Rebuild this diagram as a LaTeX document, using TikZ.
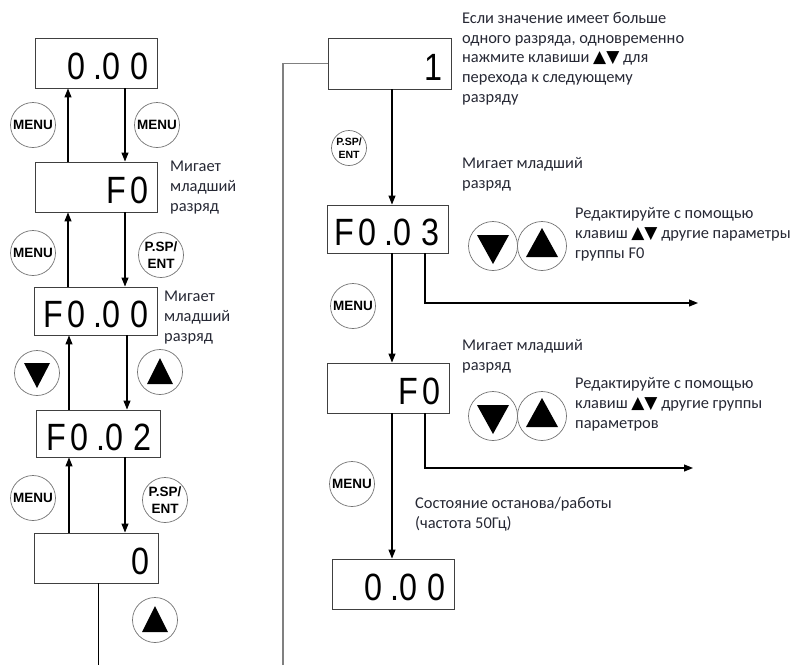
\documentclass[tikz,border=0pt]{standalone}
\usepackage{fontspec}
\setmainfont{Carlito}
\newfontfamily\segfont{Liberation Sans}[FakeStretch=0.85]
\newfontfamily\btnfont{Liberation Sans}
\newfontfamily\symfont{DejaVu Sans}
\usetikzlibrary{arrows.meta}
\definecolor{txt}{RGB}{38,40,52}
\newcommand{\updn}{{\color{black}\symfont\fontsize{17}{17}\selectfont ▲▼}}
\newcommand{\disp}[2]{\makebox[#1][r]{#2}}
\newcommand{\dotgap}{\hspace{8pt}}
\newcommand{\diggap}{\hspace{10pt}}
\newcommand{\fgap}{\hspace{3.5pt}}
\begin{document}
\begin{tikzpicture}[x=1pt,y=-1pt,
  bx/.style={draw=black!75, line width=0.9pt, rectangle, inner xsep=9pt, inner ysep=0pt,
    text height=33pt, text depth=0pt, font=\segfont\fontsize{38}{38}\selectfont},
  btn/.style={circle, draw=black!55, line width=0.7pt, inner sep=0pt, minimum size=45pt,
    font=\btnfont\bfseries\fontsize{13.5}{17}\selectfont, align=center},
  sbtn/.style={btn, minimum size=35pt, font=\btnfont\bfseries\fontsize{10.5}{13.5}\selectfont},
  tbtn/.style={btn},
  rbtn/.style={btn, minimum size=49pt},
  arr/.style={line width=1.1pt, -{Triangle[length=9pt,width=7pt]}},
  plain/.style={line width=1.0pt},
  gline/.style={line width=1.4pt, draw=black!50},
  lbl/.style={font=\fontsize{16.4}{19.6}\selectfont, text=txt, align=left, inner sep=0pt, anchor=north west}]
\useasboundingbox (0,0) rectangle (798,665);

% ---------- left column boxes
\node[bx, minimum height=50pt] (b1) at (96,63) {\disp{104pt}{0\dotgap.0\diggap0}};
\node[bx, minimum height=50pt] (b2) at (96,187) {\disp{104pt}{F\fgap0}};
\node[bx, minimum height=48pt] (b3) at (95.5,311) {\disp{105pt}{F\fgap0\dotgap.0\diggap0}};
\node[bx, minimum height=47pt] (b4) at (98,433.5) {\disp{106pt}{F\fgap0\dotgap.0\diggap2}};
\node[bx, minimum height=50pt] (b5) at (96,558) {\disp{106pt}{0}};

% ---------- right column boxes
\node[bx, minimum height=51pt] (r1) at (389.5,63.5) {\disp{105pt}{1}};
\node[bx, minimum height=48pt] (r2) at (387.5,229) {\disp{103pt}{F\fgap0\dotgap.0\diggap3}};
\node[bx, minimum height=50pt] (r3) at (388,388) {\disp{104pt}{F\fgap0}};
\node[bx, minimum height=50pt] (r4) at (393,584) {\disp{104pt}{0\dotgap.0\diggap0}};

% ---------- buttons left
\node[btn] (m1) at (33,125) {MENU};
\node[btn] (m2) at (157,125) {MENU};
\node[btn] (m3) at (33,253) {MENU};
\node[btn] (p1) at (161,255) {P.SP/\\ENT};
\node[tbtn] (d1) at (37,373) {};
\node[tbtn] (u1) at (160,372) {};
\node[btn] (m4) at (33,498) {MENU};
\node[btn] (p2) at (165,500) {P.SP/\\ENT};
\node[tbtn] (u2) at (155,620) {};
\fill[shift={(d1.center)}] (-13,-10) -- (13,-10) -- (0,15) -- cycle;
\fill[shift={(u1.center)}] (-13,12) -- (13,12) -- (0,-14) -- cycle;
\fill[shift={(u2.center)}] (-13,12) -- (13,12) -- (0,-14) -- cycle;

% ---------- buttons right
\node[sbtn] (p3) at (349,148) {P.SP/\\ENT};
\node[rbtn] (d2) at (493,246) {};
\node[rbtn] (u3) at (542,246) {};
\node[btn] (m5) at (353,306) {MENU};
\node[rbtn] (d3) at (493,416) {};
\node[rbtn] (u4) at (542,416) {};
\node[btn] (m6) at (352,484) {MENU};
\fill[shift={(d2.center)}] (-16,-11) -- (16,-11) -- (0,18) -- cycle;
\fill[shift={(u3.center)}] (-16,11) -- (16,11) -- (0,-18) -- cycle;
\fill[shift={(d3.center)}] (-16,-11) -- (16,-11) -- (0,18) -- cycle;
\fill[shift={(u4.center)}] (-16,11) -- (16,11) -- (0,-18) -- cycle;

% ---------- left connectors
\draw[arr] (68,0 |- b2.north) -- (68,0 |- b1.south);
\draw[arr] (125,0 |- b1.south) -- (125,0 |- b2.north);
\draw[arr] (68,0 |- b3.north) -- (68,0 |- b2.south);
\draw[arr] (125,0 |- b2.south) -- (125,0 |- b3.north);
\draw[arr] (69,0 |- b4.north) -- (69,0 |- b3.south);
\draw[arr] (127,0 |- b3.south) -- (127,0 |- b4.north);
\draw[arr] (69,0 |- b5.north) -- (69,0 |- b4.south);
\draw[arr] (125,0 |- b4.south) -- (125,0 |- b5.north);
\coordinate (lend) at (98,665);
\draw[plain] (98,0 |- b5.south) -- (lend);

% ---------- right connectors
\coordinate (gend) at (283,665);
\draw[gline] (gend) |- (r1.west);
\draw[arr] (392,0 |- r1.south) -- (392,0 |- r2.north);
\draw[arr] (392,0 |- r2.south) -- (392,0 |- r3.north);
\draw[arr] (392,0 |- r3.south) -- (392,0 |- r4.north);
\coordinate (e1) at (698,303);
\coordinate (e2) at (693,468);
\draw[arr] (425,0 |- r2.south) |- (e1);
\draw[arr] (425,0 |- r3.south) |- (e2);

% ---------- labels
\node[lbl] (t1) at (462,9.7) {\strut Если значение имеет больше\\одного разряда, одновременно\\нажмите клавиши \updn{} для\\перехода к следующему\\разряду};
\node[lbl] (t2) at (170,158) {\strut Мигает\\младший\\разряд};
\node[lbl] (t3) at (164,288) {\strut Мигает\\младший\\разряд};
\node[lbl] (t4) at (462,155) {\strut Мигает младший\\разряд};
\node[lbl] (t5) at (575,205) {\strut Редактируйте с помощью\\клавиш \updn{} другие параметры\\группы F0};
\node[lbl] (t6) at (462,337) {\strut Мигает младший\\разряд};
\node[lbl] (t7) at (575,375) {\strut Редактируйте с помощью\\клавиш \updn{} другие группы\\параметров};
\node[lbl] (t8) at (415,495) {\strut Состояние останова/работы\\(частота 50Гц)};
\end{tikzpicture}
\end{document}
